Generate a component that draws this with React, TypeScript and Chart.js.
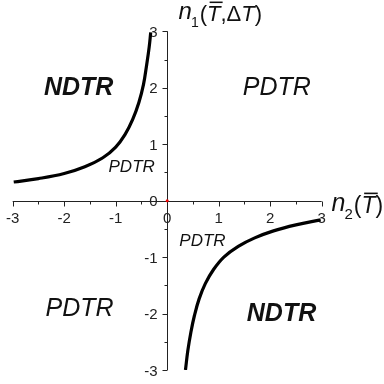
import React, { useEffect, useRef } from "react";
import { Chart, registerables } from "chart.js";

Chart.register(...registerables);

// Curve readings (upper-left branch and lower-right branch)
const upperX = [-2.98, -2.5, -2.0, -1.6, -1.25, -1.0, -0.82, -0.67, -0.55, -0.46, -0.4, -0.35, -0.32];
const upperY = [0.33, 0.39, 0.48, 0.6, 0.76, 0.95, 1.17, 1.44, 1.74, 2.06, 2.4, 2.72, 2.98];
const lowerX = [0.355, 0.4, 0.46, 0.53, 0.62, 0.74, 0.9, 1.1, 1.38, 1.7, 2.05, 2.5, 2.98];
const lowerY = [-3.0, -2.66, -2.33, -2.03, -1.74, -1.47, -1.22, -1.0, -0.81, -0.66, -0.54, -0.43, -0.34];

// Axis ticks
const xTickValues = [-3, -2, -1, 0, 1, 2, 3];
const yTickValues = [-3, -2, -1, 0, 1, 2, 3];
const minorTickValues = [-2.5, -1.5, -0.5, 0.5, 1.5, 2.5];

// Region labels
const regionTexts = ["NDTR", "PDTR", "PDTR", "PDTR", "PDTR", "NDTR"];
const regionX = [-1.72, 2.13, -0.69, 0.685, -1.7, 2.22];
const regionY = [2.02, 2.02, 0.61, -0.71, -1.9, -1.99];

const FONT = "'Liberation Sans', Arial, sans-serif";

const regionStyle = [
  { bold: true, size: 25 },
  { bold: false, size: 25 },
  { bold: false, size: 17 },
  { bold: false, size: 17 },
  { bold: false, size: 25 },
  { bold: true, size: 25 },
];

function drawTitle(
  ctx: CanvasRenderingContext2D,
  x: number,
  y: number,
  size: number,
  sub: string,
  inner: Array<{ t: string; italic: boolean; bar?: boolean }>
) {
  ctx.save();
  ctx.fillStyle = "#111";
  ctx.strokeStyle = "#111";
  ctx.textAlign = "left";
  ctx.textBaseline = "alphabetic";
  let cx = x;
  ctx.font = `italic ${size + 2}px ${FONT}`;
  ctx.fillText("n", cx, y - 2);
  cx += ctx.measureText("n").width - 1;
  const subSize = Math.round(size * 0.65);
  ctx.font = `${subSize}px ${FONT}`;
  ctx.fillText(sub, cx, y + size * 0.26);
  cx += ctx.measureText(sub).width + 1;
  const parts = [{ t: "(", italic: false }, ...inner, { t: ")", italic: false }];
  for (const p of parts) {
    ctx.font = `${p.italic ? "italic " : ""}${size}px ${FONT}`;
    const w = ctx.measureText(p.t).width;
    ctx.fillText(p.t, cx, y);
    if (p.bar) {
      const top = y - size * 0.716 - size * 0.14;
      ctx.lineWidth = Math.max(1.2, size * 0.07);
      ctx.beginPath();
      ctx.moveTo(cx + size * 0.12, top);
      ctx.lineTo(cx + w + size * 0.1, top);
      ctx.stroke();
    }
    cx += w;
  }
  ctx.restore();
}

const axesPlugin = {
  id: "customAxes",
  beforeDatasetsDraw(chart: any) {
    const ctx: CanvasRenderingContext2D = chart.ctx;
    const xs = chart.scales.x;
    const ys = chart.scales.y;
    const x0 = Math.round(xs.getPixelForValue(0)) + 0.5;
    const y0 = Math.round(ys.getPixelForValue(0)) + 0.5;
    ctx.save();
    ctx.strokeStyle = "#222";
    ctx.lineWidth = 1;
    ctx.beginPath();
    ctx.moveTo(xs.getPixelForValue(-3), y0);
    ctx.lineTo(xs.getPixelForValue(3), y0);
    ctx.moveTo(x0, ys.getPixelForValue(3));
    ctx.lineTo(x0, ys.getPixelForValue(-3));
    for (const v of xTickValues) {
      const px = Math.round(xs.getPixelForValue(v)) + 0.5;
      ctx.moveTo(px, y0);
      ctx.lineTo(px, y0 + 5);
    }
    for (const v of minorTickValues) {
      const px = Math.round(xs.getPixelForValue(v)) + 0.5;
      ctx.moveTo(px, y0);
      ctx.lineTo(px, y0 + 3);
    }
    for (const v of yTickValues) {
      const py = Math.round(ys.getPixelForValue(v)) + 0.5;
      ctx.moveTo(x0, py);
      ctx.lineTo(x0 - 5, py);
    }
    for (const v of minorTickValues) {
      const py = Math.round(ys.getPixelForValue(v)) + 0.5;
      ctx.moveTo(x0, py);
      ctx.lineTo(x0 - 3, py);
    }
    ctx.stroke();

    ctx.fillStyle = "#222";
    ctx.font = `15px ${FONT}`;
    ctx.textBaseline = "alphabetic";
    ctx.textAlign = "center";
    for (const v of xTickValues) {
      ctx.fillText(String(v), xs.getPixelForValue(v), y0 + 21);
    }
    ctx.textAlign = "right";
    for (const v of yTickValues) {
      ctx.fillText(String(v), x0 - 10, ys.getPixelForValue(v) + 5.5);
    }
    ctx.restore();
  },
  afterDraw(chart: any) {
    const ctx: CanvasRenderingContext2D = chart.ctx;
    const xs = chart.scales.x;
    const ys = chart.scales.y;
    ctx.save();
    ctx.fillStyle = "#111";
    ctx.textAlign = "center";
    ctx.textBaseline = "middle";
    regionTexts.forEach((t, i) => {
      const st = regionStyle[i];
      ctx.font = `italic ${st.bold ? "bold " : ""}${st.size}px ${FONT}`;
      ctx.fillText(t, xs.getPixelForValue(regionX[i]), ys.getPixelForValue(regionY[i]) + 1);
    });
    ctx.restore();

    drawTitle(ctx, xs.getPixelForValue(0.22), ys.getPixelForValue(3.18), 22, "1", [
      { t: "T", italic: true, bar: true },
      { t: ",", italic: false },
      { t: "\u0394", italic: false },
      { t: "T", italic: true },
    ]);
    drawTitle(ctx, xs.getPixelForValue(3.19), ys.getPixelForValue(-0.22), 23, "2", [
      { t: "T", italic: true, bar: true },
    ]);
  },
};

export default function App() {
  const ref = useRef<HTMLCanvasElement | null>(null);
  useEffect(() => {
    if (!ref.current) return;
    const chart = new Chart(ref.current, {
      type: "scatter",
      data: {
        datasets: [
          {
            data: upperX.map((x, i) => ({ x, y: upperY[i] })),
            showLine: true,
            borderColor: "#000",
            borderWidth: 3.2,
            pointRadius: 0,
            tension: 0.4,
            fill: false,
          },
          {
            data: lowerX.map((x, i) => ({ x, y: lowerY[i] })),
            showLine: true,
            borderColor: "#000",
            borderWidth: 3.2,
            pointRadius: 0,
            tension: 0.4,
            fill: false,
          },
          {
            data: [{ x: 0, y: 0 }],
            pointRadius: 1.5,
            pointBackgroundColor: "#e00",
            pointBorderWidth: 0,
            showLine: false,
          },
        ],
      },
      options: {
        responsive: false,
        animation: false,
        events: [],
        layout: { padding: { left: 12.7, right: 62.3, top: 31.3, bottom: 14 } },
        plugins: { legend: { display: false }, tooltip: { enabled: false }, title: { display: false } },
        scales: {
          x: { type: "linear", min: -3, max: 3, display: false },
          y: { type: "linear", min: -3, max: 3, display: false },
        },
      },
      plugins: [axesPlugin],
    } as any);
    return () => chart.destroy();
  }, []);
  return (
    <div style={{ position: "absolute", left: 0, top: 0, width: 384, height: 384, background: "#fff" }}>
      <canvas ref={ref} width={384} height={384} style={{ display: "block" }} />
    </div>
  );
}
